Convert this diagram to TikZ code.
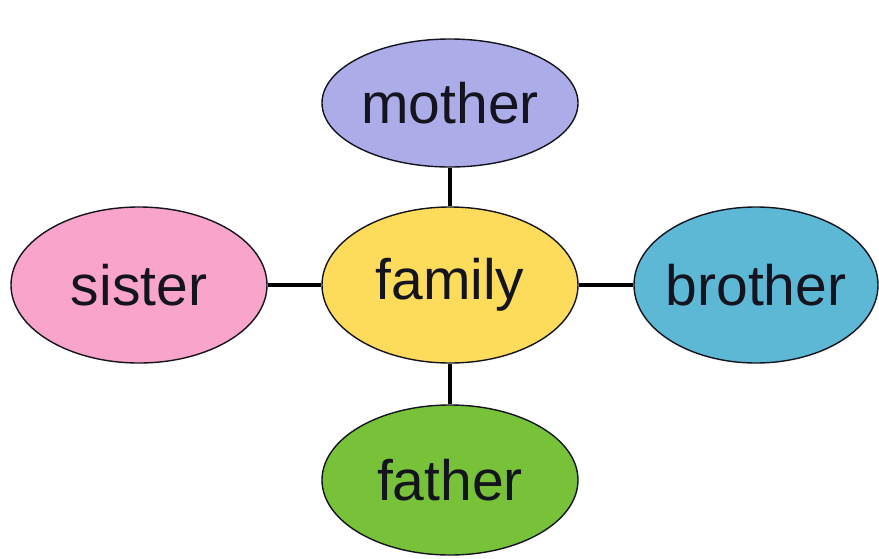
\documentclass[tikz,border=0pt]{standalone}
\usepackage{fontspec}
\setmainfont{Liberation Sans}
\usetikzlibrary{shapes.geometric}
\definecolor{cmother}{RGB}{172,172,232}
\definecolor{csister}{RGB}{249,164,202}
\definecolor{cfamily}{RGB}{253,220,92}
\definecolor{cbrother}{RGB}{92,184,212}
\definecolor{cfather}{RGB}{120,194,58}
\definecolor{ctext}{RGB}{20,20,30}
\begin{document}
\begin{tikzpicture}[x=1pt,y=-1pt,
  bubble/.style={ellipse, draw=ctext, line width=1.4pt, inner sep=0pt,
    minimum width=256pt, minimum height=156pt, text=ctext,
    font=\fontsize{57}{64}\selectfont},
  link/.style={line width=4.5pt, draw=black}]
\useasboundingbox (0,0) rectangle (879,558);
\node[bubble, fill=cmother, minimum height=128pt] (mother) at (450,103) {\makebox[0pt]{mother}};
\node[bubble, fill=cfamily] (family) at (450,285) {\makebox[0pt]{family}};
\node[bubble, fill=csister] (sister) at (139,285) {\makebox[0pt]{sister}};
\node[bubble, fill=cbrother, minimum width=244pt] (brother) at (756,285) {\makebox[0pt]{brother}};
\node[bubble, fill=cfather, minimum height=150pt] (father) at (450,480) {\makebox[0pt]{father}};
\draw[link] (mother.south) -- (family.north);
\draw[link] (family.south) -- (father.north);
\draw[link] (sister.east) -- (family.west);
\draw[link] (family.east) -- (brother.west);
\end{tikzpicture}
\end{document}
